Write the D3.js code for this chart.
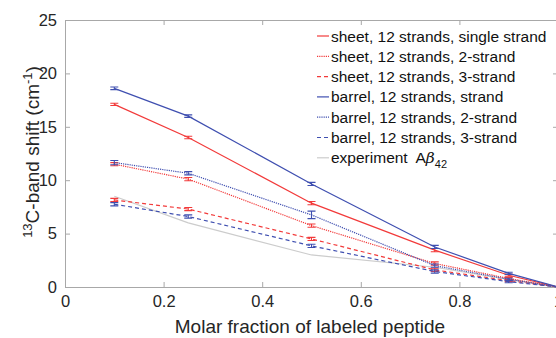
<!DOCTYPE html>
<html>
<head>
<meta charset="utf-8">
<script src="https://cdn.jsdelivr.net/npm/d3@7"></script>
<style>
  body { margin: 0; background: #fff; }
  svg { display: block; font-family: "Liberation Sans", Arial, sans-serif; }
</style>
</head>
<body>
<div id="chart"></div>
<script>
// molar fraction of labeled peptide
var fractions = [0.1, 0.25, 0.5, 0.75, 0.9, 1.0];

// 13C-band shift (cm-1)
var sheetSingle = [17.1, 14.0, 7.85, 3.45, 1.1, 0];
var sheet2 = [11.5, 10.1, 5.75, 2.2, 0.8, 0];
var sheet3 = [8.15, 7.3, 4.5, 1.6, 0.6, 0];
var barrelSingle = [18.6, 16.0, 9.65, 3.75, 1.28, 0];
var barrel2 = [11.65, 10.65, 6.75, 2.0, 0.72, 0];
var barrel3 = [7.75, 6.6, 3.85, 1.45, 0.5, 0];
var experiment = [8.5, 6.0, 3.0, 1.85, 0.7, 0];

// error bar half-widths
var sheetSingleErr = [0.1, 0.12, 0.15, 0.15, 0.1, 0];
var sheet2Err = [0.15, 0.15, 0.15, 0.15, 0.1, 0];
var sheet3Err = [0.15, 0.15, 0.15, 0.15, 0.1, 0];
var barrelSingleErr = [0.12, 0.12, 0.15, 0.15, 0.1, 0];
var barrel2Err = [0.2, 0.15, 0.35, 0.15, 0.1, 0];
var barrel3Err = [0.15, 0.15, 0.15, 0.15, 0.1, 0];

var xTicks = [0, 0.2, 0.4, 0.6, 0.8, 1];
var yTicks = [0, 5, 10, 15, 20, 25];

var red = "#f23a3a";
var blue = "#3f4fb0";
var grey = "#cccccc";

var series = [
  { name: "sheet, 12 strands, single strand", values: sheetSingle, err: sheetSingleErr, color: red, dash: null },
  { name: "sheet, 12 strands, 2-strand", values: sheet2, err: sheet2Err, color: red, dash: "1.2,1" },
  { name: "sheet, 12 strands, 3-strand", values: sheet3, err: sheet3Err, color: red, dash: "4,3" },
  { name: "barrel, 12 strands, strand", values: barrelSingle, err: barrelSingleErr, color: blue, dash: null },
  { name: "barrel, 12 strands, 2-strand", values: barrel2, err: barrel2Err, color: blue, dash: "1.2,1" },
  { name: "barrel, 12 strands, 3-strand", values: barrel3, err: barrel3Err, color: blue, dash: "4,3" }
];

var width = 556, height = 338;
var margin = { left: 65, top: 20, right: -2, bottom: 51 };

var x = d3.scaleLinear().domain([0, 1]).range([margin.left, width - margin.right]);
var y = d3.scaleLinear().domain([0, 25]).range([height - margin.bottom, margin.top]);

var svg = d3.select("#chart").append("svg")
  .attr("width", width)
  .attr("height", height);

var axisColor = "#a8a8a8";
var textColor = "#262626";

/* axes with inward ticks */
function styleAxis(g) {
  g.select(".domain").attr("stroke", axisColor);
  g.selectAll(".tick line").attr("stroke", axisColor);
  g.selectAll(".tick text").attr("fill", textColor).style("font-size", "16.5px");
}

svg.append("g")
  .attr("transform", `translate(0, ${y(0)})`)
  .call(d3.axisBottom(x).tickValues(xTicks).tickFormat(d3.format("")).tickSizeInner(-5).tickSizeOuter(0).tickPadding(8))
  .call(styleAxis);

svg.append("g")
  .attr("transform", `translate(0, ${y(25)})`)
  .call(d3.axisTop(x).tickValues(xTicks).tickFormat("").tickSizeInner(-5).tickSizeOuter(0))
  .call(styleAxis);

svg.append("g")
  .attr("transform", `translate(${x(0)}, 0)`)
  .call(d3.axisLeft(y).tickValues(yTicks).tickSizeInner(-5).tickSizeOuter(0).tickPadding(8))
  .call(styleAxis);

svg.append("g")
  .attr("transform", `translate(${x(1)}, 0)`)
  .call(d3.axisRight(y).tickValues(yTicks).tickFormat("").tickSizeInner(-5).tickSizeOuter(0))
  .call(styleAxis);

/* lines */
var line = d3.line()
  .x((d, i) => x(fractions[i]))
  .y((d) => y(d));

svg.append("path")
  .attr("d", line(experiment))
  .attr("fill", "none")
  .attr("stroke", grey)
  .attr("stroke-width", 1.2);

var groups = svg.selectAll(".series")
  .data(series)
  .enter()
  .append("g")
  .attr("class", "series");

groups.append("path")
  .attr("d", (d) => line(d.values))
  .attr("fill", "none")
  .attr("stroke", (d) => d.color)
  .attr("stroke-width", 1.2)
  .attr("stroke-dasharray", (d) => d.dash);

/* error bars */
groups.each(function (s) {
  var g = d3.select(this);
  s.values.forEach(function (v, i) {
    if (!s.err[i]) return;
    var cx = x(fractions[i]);
    var lo = y(v - s.err[i]), hi = y(v + s.err[i]);
    var p = `M${cx},${lo}V${hi}M${cx - 4},${lo}H${cx + 4}M${cx - 4},${hi}H${cx + 4}`;
    g.append("path")
      .attr("d", p)
      .attr("fill", "none")
      .attr("stroke", s.color)
      .attr("stroke-width", 1.1);
  });
});

/* legend */
var legendItems = series.map((d) => ({ name: d.name, color: d.color, dash: d.dash }));
legendItems.push({ name: "experiment", color: grey, dash: null, exp: true });

var legend = svg.append("g").attr("transform", "translate(317, 36)");
var rows = legend.selectAll(".row")
  .data(legendItems)
  .enter()
  .append("g")
  .attr("transform", (d, i) => `translate(0, ${i * 20.3})`);

rows.append("line")
  .attr("x1", 0).attr("x2", 12)
  .attr("y1", 0).attr("y2", 0)
  .attr("stroke", (d) => d.color)
  .attr("stroke-width", 1.2)
  .attr("stroke-dasharray", (d) => d.dash);

var labels = rows.append("text")
  .attr("x", 14)
  .attr("y", 5.5)
  .attr("fill", "#111")
  .style("font-size", "15.5px")
  .text((d) => d.name);

labels.filter((d) => d.exp).each(function () {
  var t = d3.select(this);
  t.append("tspan").text("\u00a0 A");
  t.append("tspan").style("font-family", "'DejaVu Serif', serif").style("font-style", "italic").text("\u03b2");
  t.append("tspan").attr("dy", 5).style("font-size", "11px").text("42");
});

/* axis titles */
svg.append("text")
  .attr("x", 310)
  .attr("y", 333)
  .attr("text-anchor", "middle")
  .attr("fill", textColor)
  .style("font-size", "19px")
  .text("Molar fraction of labeled peptide");

var yl = svg.append("text")
  .attr("transform", "translate(39, 152) rotate(-90)")
  .attr("text-anchor", "middle")
  .attr("fill", textColor)
  .style("font-size", "19px");
yl.append("tspan").attr("dy", -7).style("font-size", "13px").text("13");
yl.append("tspan").attr("dy", 7).text("C-band shift (cm");
yl.append("tspan").attr("dy", -7).style("font-size", "13px").text("-1");
yl.append("tspan").attr("dy", 7).text(")");
</script>
</body>
</html>
